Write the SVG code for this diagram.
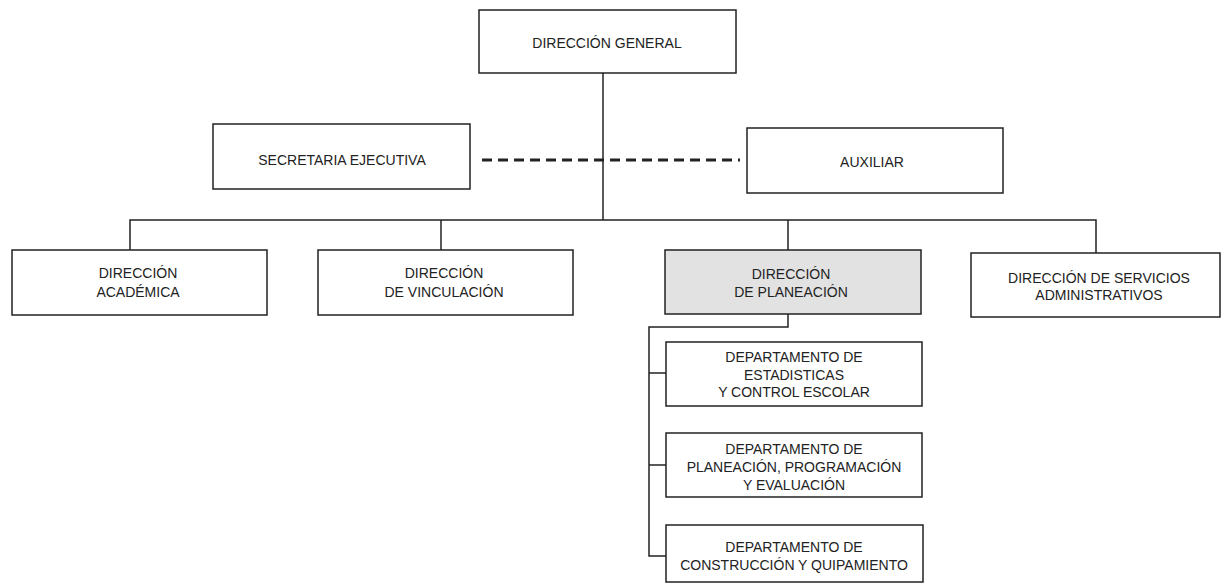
<svg xmlns="http://www.w3.org/2000/svg" width="1224" height="585" viewBox="0 0 1224 585">
<style>
.box{fill:#fff;stroke:#222;stroke-width:1.5}
.grey{fill:#e2e2e2}
.t{font-family:"Liberation Sans",Arial,sans-serif;font-size:14px;fill:#222;text-anchor:middle}
.ln{fill:none;stroke:#222;stroke-width:1.5}
.dash{fill:none;stroke:#222;stroke-width:3;stroke-dasharray:10 6}
</style>
<rect width="1224" height="585" fill="#fff"/>
<g id="connectors">
<path class="ln" d="M603,73 V220"/>
<path class="ln" d="M130,250 V220 H1096 V253"/>
<path class="ln" d="M441,220 V250"/>
<path class="ln" d="M788,220 V250"/>
<path class="ln" d="M788,314 V327 H649 V556 H666"/>
<path class="ln" d="M649,373 H666"/>
<path class="ln" d="M649,465 H666"/>
<path class="dash" d="M482,160 H740"/>
</g>
<g id="direccion-general">
<rect class="box" x="479" y="10" width="257" height="63"/>
<text class="t" x="607" y="48">DIRECCIÓN GENERAL</text>
</g>
<g id="secretaria-ejecutiva">
<rect class="box" x="213" y="124" width="257" height="65"/>
<text class="t" x="342" y="165">SECRETARIA EJECUTIVA</text>
</g>
<g id="auxiliar">
<rect class="box" x="747" y="128" width="256" height="65"/>
<text class="t" x="872" y="167">AUXILIAR</text>
</g>
<g id="direccion-academica">
<rect class="box" x="12" y="250" width="255" height="65"/>
<text class="t" x="138" y="278">DIRECCIÓN</text>
<text class="t" x="138" y="297">ACADÉMICA</text>
</g>
<g id="direccion-vinculacion">
<rect class="box" x="318" y="250" width="255" height="65"/>
<text class="t" x="444" y="278">DIRECCIÓN</text>
<text class="t" x="444" y="297">DE VINCULACIÓN</text>
</g>
<g id="direccion-planeacion">
<rect class="box grey" x="665" y="250" width="256" height="64"/>
<text class="t" x="791" y="279">DIRECCIÓN</text>
<text class="t" x="791" y="297">DE PLANEACIÓN</text>
</g>
<g id="direccion-servicios">
<rect class="box" x="971" y="253" width="249" height="64"/>
<text class="t" x="1099" y="283">DIRECCIÓN DE SERVICIOS</text>
<text class="t" x="1099" y="300">ADMINISTRATIVOS</text>
</g>
<g id="depto-estadisticas">
<rect class="box" x="666" y="342" width="256" height="64"/>
<text class="t" x="794" y="362">DEPARTAMENTO DE</text>
<text class="t" x="794" y="380">ESTADISTICAS</text>
<text class="t" x="794" y="397">Y CONTROL ESCOLAR</text>
</g>
<g id="depto-planeacion">
<rect class="box" x="666" y="433" width="256" height="64"/>
<text class="t" x="794" y="454">DEPARTAMENTO DE</text>
<text class="t" x="794" y="472">PLANEACIÓN, PROGRAMACIÓN</text>
<text class="t" x="794" y="490">Y EVALUACIÓN</text>
</g>
<g id="depto-construccion">
<rect class="box" x="666" y="525" width="257" height="57"/>
<text class="t" x="794" y="552">DEPARTAMENTO DE</text>
<text class="t" x="794" y="570">CONSTRUCCIÓN Y QUIPAMIENTO</text>
</g>
</svg>
